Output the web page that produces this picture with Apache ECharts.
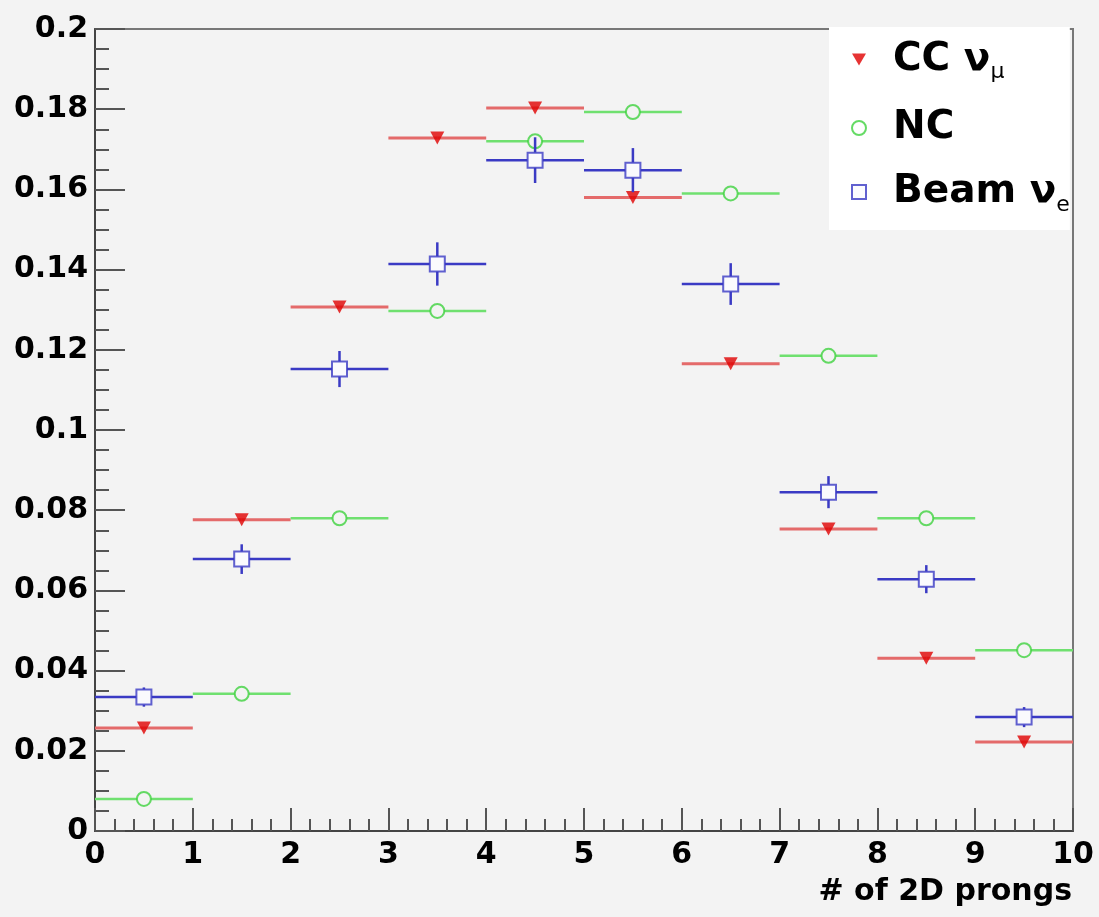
<!DOCTYPE html>
<html>
<head>
<meta charset="utf-8">
<script src="https://cdn.jsdelivr.net/npm/echarts@6/dist/echarts.min.js"></script>
<style>
html,body{margin:0;padding:0;background:#f3f3f3;}
#chart{width:1099px;height:917px;}
</style>
</head>
<body>
<div id="chart"></div>
<script>
// ---- data ----
const binCenters = [0.5, 1.5, 2.5, 3.5, 4.5, 5.5, 6.5, 7.5, 8.5, 9.5];
const ccNumu   = [0.0257, 0.0776, 0.1307, 0.1728, 0.1803, 0.1580, 0.1165, 0.0753, 0.0431, 0.0222];
const ncVals   = [0.0080, 0.0342, 0.0780, 0.1297, 0.1720, 0.1793, 0.1590, 0.1185, 0.0780, 0.0451];
const beamNue  = [0.0334, 0.0678, 0.1152, 0.1414, 0.1673, 0.1648, 0.1364, 0.0845, 0.0628, 0.0284];
const beamErr  = [0.0024, 0.0037, 0.0045, 0.0054, 0.0057, 0.0055, 0.0052, 0.0040, 0.0035, 0.0025];
const zeroErr  = [0, 0, 0, 0, 0, 0, 0, 0, 0, 0];
const xTicks = [0, 1, 2, 3, 4, 5, 6, 7, 8, 9, 10];
const yTicks = ['0', '0.02', '0.04', '0.06', '0.08', '0.1', '0.12', '0.14', '0.16', '0.18', '0.2'];
const seriesNames = ['CC \u03bd\u03bc', 'NC', 'Beam \u03bde'];

const FONT = 'DejaVu Sans';

function barSeries(name, vals, errs, color, width, gap, z) {
  return {
    type: 'custom',
    name: name,
    z: z,
    silent: true,
    encode: { x: 0, y: 1 },
    data: binCenters.map((b, i) => [b, vals[i], errs[i]]),
    renderItem: function (params, api) {
      const x = api.value(0), y = api.value(1), e = api.value(2);
      const c = api.coord([x, y]);
      const l = api.coord([x - 0.5, y]);
      const r = api.coord([x + 0.5, y]);
      const st = { stroke: color, lineWidth: width };
      const ch = [
        { type: 'line', shape: { x1: l[0], y1: c[1], x2: c[0] - gap, y2: c[1] }, style: st },
        { type: 'line', shape: { x1: c[0] + gap, y1: c[1], x2: r[0], y2: c[1] }, style: st }
      ];
      if (e > 0) {
        const t = api.coord([x, y + e]);
        const b = api.coord([x, y - e]);
        if (c[1] - gap > t[1]) ch.push({ type: 'line', shape: { x1: c[0], y1: t[1], x2: c[0], y2: c[1] - gap }, style: st });
        if (c[1] + gap < b[1]) ch.push({ type: 'line', shape: { x1: c[0], y1: c[1] + gap, x2: c[0], y2: b[1] }, style: st });
      }
      return { type: 'group', children: ch };
    }
  };
}

function markerSeries(name, vals, symbol, size, itemStyle, z) {
  return {
    type: 'scatter',
    name: name,
    z: z,
    symbol: symbol,
    symbolSize: size,
    itemStyle: itemStyle,
    data: binCenters.map((b, i) => [b, vals[i]])
  };
}

const legendRich = {
  'CC \u03bd\u03bc': '{m|CC \u03bd}{s|\u03bc}',
  'NC': '{m|NC}',
  'Beam \u03bde': '{m|Beam \u03bd}{s|e}'
};

const chart = echarts.init(document.getElementById('chart'), null, { renderer: 'canvas' });
chart.setOption({
  backgroundColor: '#f3f3f3',
  animation: false,
  grid: {
    left: 95, right: 26, top: 29, bottom: 86,
    show: true, borderColor: '#777', borderWidth: 2, backgroundColor: '#f3f3f3'
  },
  legend: {
    data: seriesNames,
    orient: 'vertical',
    left: 829, top: 27,
    backgroundColor: '#ffffff',
    padding: [13, 0, 14, 22],
    itemGap: 25,
    itemWidth: 14, itemHeight: 14,
    selectedMode: false,
    formatter: function (n) { return legendRich[n]; },
    textStyle: {
      padding: [0, 0, 0, 22],
      rich: {
        m: { fontFamily: FONT, fontWeight: 'bold', fontSize: 39, color: '#000', lineHeight: 48 },
        s: { fontFamily: FONT, fontWeight: 'normal', fontSize: 22, color: '#000', lineHeight: 20, verticalAlign: 'bottom' }
      }
    }
  },
  xAxis: {
    type: 'value', min: 0, max: 10, interval: 1,
    name: '# of 2D prongs',
    nameLocation: 'end', nameGap: -1,
    nameTextStyle: { fontFamily: FONT, fontWeight: 'bold', fontSize: 30, color: '#000', align: 'right', verticalAlign: 'top', padding: [46, 0, 0, 0] },
    axisLine: { show: true, onZero: false, lineStyle: { color: '#444', width: 2 } },
    axisTick: { show: true, inside: true, length: 23, lineStyle: { color: '#555', width: 2 } },
    minorTick: { show: true, splitNumber: 5, length: 12, lineStyle: { color: '#555', width: 2 } },
    splitLine: { show: false },
    axisLabel: {
      fontFamily: FONT, fontWeight: 'bold', fontSize: 30, color: '#000', margin: 9,
      formatter: function (v) { return String(xTicks[Math.round(v)]); }
    }
  },
  yAxis: {
    type: 'value', min: 0, max: 0.2, interval: 0.02,
    axisLine: { show: true, onZero: false, lineStyle: { color: '#444', width: 2 } },
    axisTick: { show: true, inside: true, length: 30, lineStyle: { color: '#555', width: 2 } },
    minorTick: { show: true, splitNumber: 4, length: 14, lineStyle: { color: '#555', width: 2 } },
    splitLine: { show: false },
    axisLabel: {
      fontFamily: FONT, fontWeight: 'bold', fontSize: 30, color: '#000', margin: 7,
      formatter: function (v) { return yTicks[Math.round(v / 0.02)]; }
    }
  },
  series: [
    barSeries('ccBars', ccNumu, zeroErr, '#e46a6a', 3, 0, 2),
    markerSeries(seriesNames[0], ccNumu, 'path://M0,0L14,0L7,12Z', [14, 13], { color: '#e00000' }, 3),
    barSeries('ncBars', ncVals, zeroErr, '#6fe06f', 2.5, 7, 4),
    markerSeries(seriesNames[1], ncVals, 'circle', 14, { color: 'rgba(0,0,0,0)', borderColor: '#3fd23f', borderWidth: 2 }, 5),
    barSeries('beamBars', beamNue, beamErr, '#3a3ac4', 2.5, 7.5, 6),
    markerSeries(seriesNames[2], beamNue, 'rect', 15, { color: '#fbfbff', borderColor: '#3a3ac4', borderWidth: 2 }, 7)
  ]
});
</script>
</body>
</html>
